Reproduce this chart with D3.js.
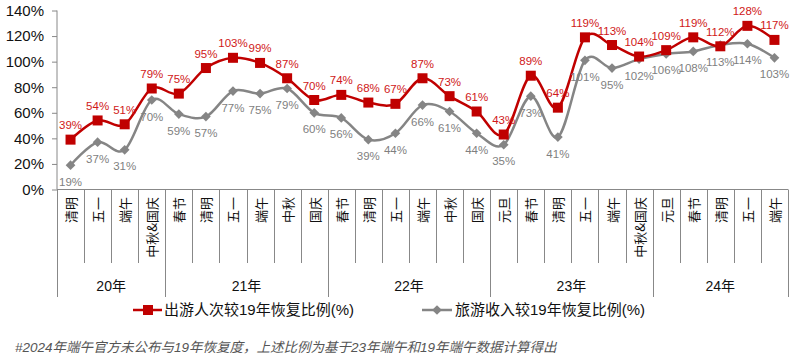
<!DOCTYPE html>
<html><head><meta charset="utf-8">
<script src="https://cdn.jsdelivr.net/npm/d3@7"></script>
<style>
html,body{margin:0;padding:0;background:#fff;}
svg{display:block;font-family:"Liberation Sans",Arial,"Noto Sans CJK SC",sans-serif;}
</style></head>
<body>
<svg id="c" width="800" height="356"></svg>
<script>
const categories = ["清明","五一","端午","中秋&国庆",
  "春节","清明","五一","端午","中秋","国庆",
  "春节","清明","五一","端午","中秋","国庆",
  "元旦","春节","清明","五一","端午","中秋&国庆",
  "元旦","春节","清明","五一","端午"];
const yearGroups = ["20年","21年","22年","23年","24年"];
const yearSizes = [4,6,6,6,5];
const tripsRecovery = [39,54,51,79,75,95,103,99,87,70,74,68,67,87,73,61,43,89,64,119,113,104,109,119,112,128,117];
const revenueRecovery = [19,37,31,70,59,57,77,75,79,60,56,39,44,66,61,44,35,73,41,101,95,102,106,108,113,114,103];
const yTicks = [0,20,40,60,80,100,120,140];
const seriesNames = ["出游人次较19年恢复比例(%)","旅游收入较19年恢复比例(%)"];
const footnote = "#2024年端午官方未公布与19年恢复度，上述比例为基于23年端午和19年端午数据计算得出";

const svg = d3.select("#c");
const x = d3.scaleBand().domain(d3.range(categories.length)).range([57,788]).paddingInner(0).paddingOuter(0);
const y = d3.scaleLinear().domain([0,140]).range([189.5,10.5]);
const cx = i => x(i) + x.bandwidth()/2;
const red = "#C00000", gray = "#858585";

// y axis
const yAxis = d3.axisLeft(y).tickValues(yTicks).tickFormat(d => d + "%").tickSize(5).tickPadding(8);
const ya = svg.append("g").attr("transform","translate(57,0)").call(yAxis);
ya.select(".domain").attr("stroke","#888").attr("d","M0,10.5V189.5");
ya.selectAll(".tick line").attr("stroke","#888");
ya.selectAll(".tick text").attr("font-size",15).attr("fill","#111").attr("font-family","Liberation Sans, Arial, sans-serif");

// x axis line
svg.append("line").attr("x1",57).attr("x2",788).attr("y1",y(0)).attr("y2",y(0)).attr("stroke","#888");

// category separators
let boundaries = [0]; yearSizes.reduce((a,s)=>{boundaries.push(a+s); return a+s;},0);
const bset = new Set(boundaries);
for (let i = 0; i <= categories.length; i++) {
  const xx = Math.round(i < categories.length ? x(i) : x(categories.length-1)+x.bandwidth()) + 0.5;
  svg.append("line").attr("x1",xx).attr("x2",xx).attr("y1",y(0)).attr("y2", bset.has(i) ? 297 : 263)
    .attr("stroke","#888");
}
// category labels (rotated -90, reading bottom to top)
svg.append("g").selectAll("text").data(categories).join("text")
  .attr("transform",(d,i)=>`translate(${cx(i)},197) rotate(-90)`)
  .attr("text-anchor","end").attr("dominant-baseline","central")
  .attr("font-size",13).attr("fill","#111")
  .attr("font-family","Noto Sans CJK SC, sans-serif")
  .text(d=>d);
// year labels
svg.append("g").selectAll("text").data(yearGroups).join("text")
  .attr("x",(d,i)=>{const s=boundaries[i], e=boundaries[i+1]; return (x(s) + x(e-1)+x.bandwidth())/2;})
  .attr("y",291).attr("text-anchor","middle").attr("font-size",14).attr("fill","#111")
  .text(d=>d);

// lines
const line = d3.line().x((d,i)=>cx(i)).y(d=>y(d)).curve(d3.curveCardinal.tension(0));
svg.append("path").datum(revenueRecovery).attr("d",line).attr("fill","none").attr("stroke",gray).attr("stroke-width",2.5);
svg.append("path").datum(tripsRecovery).attr("d",line).attr("fill","none").attr("stroke",red).attr("stroke-width",2.5);

// markers
const diamond = d3.symbol().type(d3.symbolDiamond2).size(60);
svg.append("g").selectAll("path").data(revenueRecovery).join("path")
  .attr("d",diamond).attr("transform",(d,i)=>`translate(${cx(i)},${y(d)})`).attr("fill",gray);
svg.append("g").selectAll("rect").data(tripsRecovery).join("rect")
  .attr("x",(d,i)=>cx(i)-5).attr("y",d=>y(d)-5).attr("width",10).attr("height",10).attr("fill",red);

// data labels
svg.append("g").selectAll("text").data(revenueRecovery).join("text")
  .attr("x",(d,i)=>cx(i)).attr("y",d=>y(d)+16.5).attr("dy","0.35em").attr("text-anchor","middle")
  .attr("font-size",11.5).attr("fill","#7f7f7f").text(d=>d+"%");
svg.append("g").selectAll("text").data(tripsRecovery).join("text")
  .attr("x",(d,i)=>cx(i)).attr("y",d=>y(d)-14.5).attr("dy","0.35em").attr("text-anchor","middle")
  .attr("font-size",11.5).attr("fill","#D01818").text(d=>d+"%");

// legend
const lg = svg.append("g");
lg.append("line").attr("x1",133).attr("x2",162).attr("y1",310).attr("y2",310).attr("stroke",red).attr("stroke-width",2.5);
lg.append("rect").attr("x",143).attr("y",305).attr("width",10).attr("height",10).attr("fill",red);
lg.append("text").attr("x",164).attr("y",310).attr("dy","0.35em").attr("font-size",15).attr("fill","#111").text(seriesNames[0]);
lg.append("line").attr("x1",422).attr("x2",452).attr("y1",310).attr("y2",310).attr("stroke",gray).attr("stroke-width",2.5);
lg.append("path").attr("d",diamond).attr("transform","translate(437,310)").attr("fill",gray);
lg.append("text").attr("x",455).attr("y",310).attr("dy","0.35em").attr("font-size",15).attr("fill","#111").text(seriesNames[1]);

// footnote
svg.append("text").attr("x",15).attr("y",347).attr("dy","0.35em").attr("font-size",13.5)
  .attr("font-style","italic").attr("fill","#555").text(footnote);
</script>
</body></html>
